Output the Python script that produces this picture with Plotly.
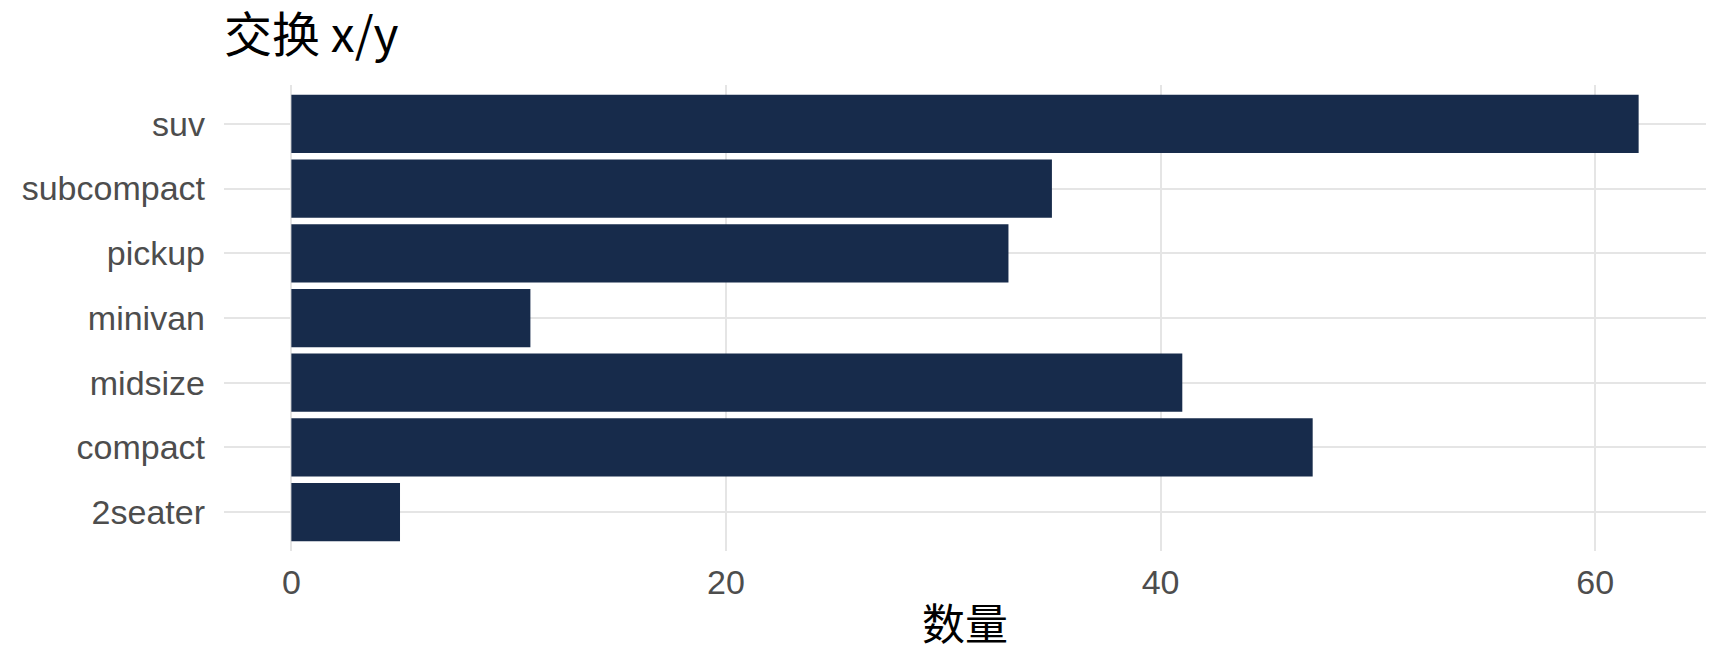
import plotly.graph_objects as go

categories = ["2seater", "compact", "midsize", "minivan", "pickup", "subcompact", "suv"]
counts = [5, 47, 41, 11, 33, 35, 62]
x_ticks = [0, 20, 40, 60]

FONT = "Liberation Sans, Arimo, Arial, Noto Sans CJK SC, sans-serif"
CJK = "Noto Sans CJK SC, Liberation Sans, sans-serif"

fig = go.Figure(go.Bar(
    x=counts, y=categories, orientation="h",
    marker=dict(color="#172B4B", line=dict(width=0)),
    width=0.9,
))

fig.update_layout(
    width=1728, height=672,
    paper_bgcolor="white", plot_bgcolor="white",
    margin=dict(l=216, r=30, t=77, b=129),
    showlegend=False,
    title=dict(text="交换 x/y", font=dict(family=CJK, size=48, color="black"),
               xref="container", x=216/1728, xanchor="left",
               yref="container", y=1 - 27/672, yanchor="middle"),
    bargap=0.1,
)
fig.update_xaxes(
    range=[-3.1, 65.1], tickvals=x_ticks, ticktext=[str(v) for v in x_ticks],
    showgrid=True, gridcolor="#E5E5E5", gridwidth=1.5, zeroline=False,
    showline=False, ticks="", ticklabelstandoff=8,
    tickfont=dict(family=FONT, size=34, color="#4D4D4D"),
    title=dict(text="数量", font=dict(family=CJK, size=43, color="black"), standoff=9),
)
fig.update_yaxes(
    range=[-0.6, 6.6], categoryorder="array", categoryarray=categories,
    showgrid=True, gridcolor="#E5E5E5", gridwidth=1.5, zeroline=False,
    showline=False, ticks="", ticklabelstandoff=18,
    tickfont=dict(family=FONT, size=34, color="#4D4D4D"),
)

fig.write_html("out.html")
